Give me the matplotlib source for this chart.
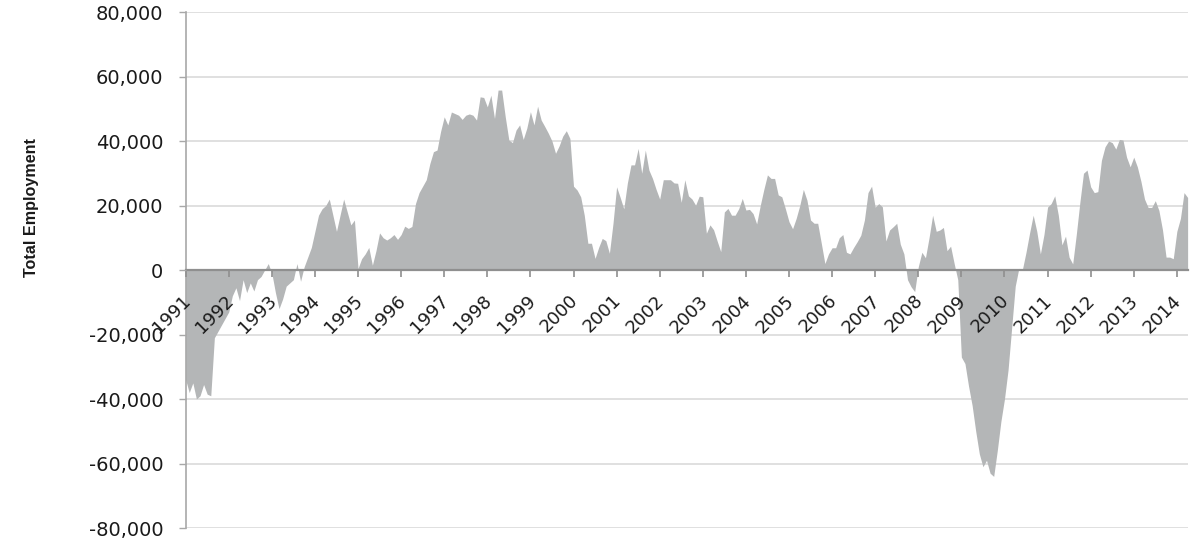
import numpy as np
import matplotlib
matplotlib.use('Agg')
import matplotlib.pyplot as plt
from matplotlib.ticker import FuncFormatter
from matplotlib.transforms import ScaledTranslation

# monthly change in total employment (Jan..Dec per year)
y1991 = [-34000, -38000, -35000, -40000, -39000, -35500, -38500, -39000, -21000, -19000, -17000, -15000]
y1992 = [-13000, -8000, -5500, -9500, -3000, -7000, -4000, -6500, -3000, -2000, 0, 2000]
y1993 = [-1000, -7000, -12000, -9000, -5000, -4000, -3000, 2000, -3500, 1000, 4000, 7000]
y1994 = [12000, 17000, 19000, 20000, 22000, 17000, 12000, 17000, 22000, 18000, 14000, 15500]
y1995 = [500, 3500, 5000, 7000, 1500, 6000, 11500, 10000, 9300, 10000, 11000, 9500]
y1996 = [11000, 13600, 12900, 13500, 20600, 24000, 26000, 28000, 33000, 36700, 37200, 43000]
y1997 = [47500, 45000, 49000, 48500, 48000, 46700, 48000, 48400, 48000, 46500, 53700, 53500]
y1998 = [50600, 54200, 47000, 55800, 55800, 47500, 40300, 39500, 43400, 45000, 40500, 44000]
y1999 = [49100, 45000, 50800, 46500, 44500, 42400, 40000, 36200, 38500, 41500, 43200, 40800]
y2000 = [26000, 24800, 22700, 17000, 8300, 8300, 3600, 7000, 9800, 9100, 5200, 14500]
y2001 = [25800, 22500, 19000, 27000, 32600, 32600, 37700, 30000, 37200, 31000, 28400, 25000]
y2002 = [22000, 28000, 28000, 28000, 27000, 26900, 21000, 28000, 23000, 22000, 20100, 22900]
y2003 = [22700, 11400, 14000, 12500, 9000, 5700, 18000, 19100, 17000, 17000, 19000, 22200]
y2004 = [18600, 18800, 17500, 14300, 20000, 25000, 29500, 28400, 28400, 23300, 22700, 19000]
y2005 = [15000, 12800, 16000, 20000, 25000, 21700, 15500, 14500, 14500, 8300, 2000, 5000]
y2006 = [6900, 6900, 10000, 11000, 5500, 5000, 7000, 8800, 10800, 15500, 24000, 26000]
y2007 = [19500, 20600, 19600, 9000, 12400, 13400, 14500, 8000, 5000, -3000, -5200, -6700]
y2008 = [1000, 5500, 3800, 10000, 17000, 12000, 12400, 13200, 6000, 7400, 2000, -3000]
y2009 = [-27000, -29000, -36000, -42000, -50000, -57000, -61000, -59000, -63000, -64000, -56000, -47000]
y2010 = [-40000, -31000, -18000, -5000, 500, 200, 5500, 11500, 17000, 12000, 5000, 11000]
y2011 = [19500, 20600, 23000, 17000, 7800, 10500, 4000, 1900, 11000, 21000, 30000, 31000]
y2012 = [25800, 24000, 24300, 34000, 38200, 40000, 39500, 37500, 40500, 40300, 35000, 32000]
y2013 = [35000, 32000, 27500, 22000, 19400, 19400, 21500, 18500, 12500, 4000, 4000, 3500]
y2014 = [12000, 16000, 24000, 22500]

years = list(range(1991, 2015))
monthly = [y1991, y1992, y1993, y1994, y1995, y1996, y1997, y1998, y1999, y2000,
           y2001, y2002, y2003, y2004, y2005, y2006, y2007, y2008, y2009, y2010,
           y2011, y2012, y2013, y2014]
yticks = list(range(-80000, 80001, 20000))

values = np.concatenate([np.array(m, dtype=float) for m in monthly])
x = 1991 + np.arange(len(values)) / 12.0

plt.rcParams['font.family'] = ['DejaVu Sans']

fig = plt.figure(figsize=(11.9, 5.44), dpi=100)
ax = fig.add_axes([0.156, 0.0294, 0.842, 0.9485])

for t in yticks:
    ax.axhline(t, color='#dadada', linewidth=1.2, zorder=1)

ax.fill_between(x, 0, values, color='#b4b6b7', linewidth=0, zorder=2)

ax.set_xlim(1991, x[-1])
ax.set_ylim(-80000, 80000)
ax.set_axisbelow(False)

# spine position first: moving it resets the ticks
ax.spines['top'].set_visible(False)
ax.spines['right'].set_visible(False)
ax.spines['bottom'].set_position(('data', 0))
ax.spines['bottom'].set_color('#8f8f8f')
ax.spines['bottom'].set_linewidth(1.6)
ax.spines['left'].set_color('#a8a8a8')
ax.spines['left'].set_linewidth(1.2)

ax.set_yticks(yticks)
ax.yaxis.set_major_formatter(FuncFormatter(lambda v, p: f'{v:,.0f}'))
ax.tick_params(axis='y', direction='out', length=5, width=1, color='#a8a8a8',
               pad=11, labelsize=14, labelcolor='#1a1a1a')

ax.tick_params(axis='x', direction='out', length=5, width=1.2, color='#8f8f8f', pad=15)
ax.set_xticks(years)
ax.set_xticklabels([str(y) for y in years], rotation=45, ha='right', va='center',
                   rotation_mode='anchor', fontsize=13, color='#1a1a1a')
shift = ScaledTranslation(2 / 100, 0, fig.dpi_scale_trans)
for lab in ax.get_xticklabels():
    lab.set_transform(lab.get_transform() + shift)

ax.set_ylabel('Total Employment', fontsize=11.6, fontweight='bold',
              family='Liberation Sans', color='#1a1a1a')
ax.yaxis.set_label_coords(-0.146, 0.622)

fig.savefig('out.png', dpi=100)
